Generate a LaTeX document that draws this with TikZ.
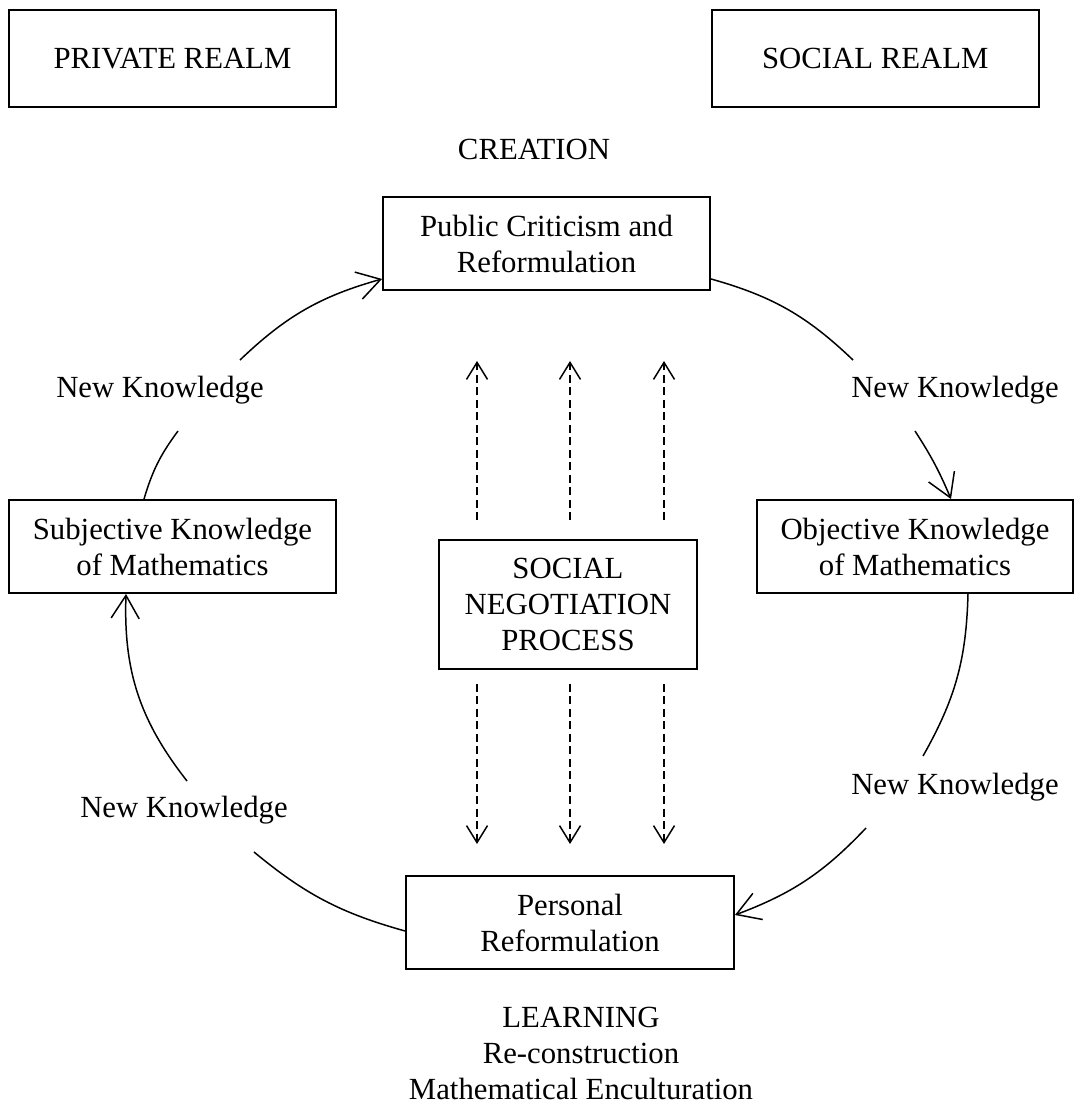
\documentclass[tikz,border=0pt]{standalone}
\usepackage{fontspec}
\setmainfont{Liberation Serif}
\usetikzlibrary{positioning,arrows.meta}
\tikzset{
    realmbox/.style={draw, line width=1.1pt, align=center, minimum width=6.54cm, minimum height=1.94cm},
    stagebox/.style={draw, line width=1.1pt, align=center, minimum height=1.86cm, inner sep=2pt},
    plaintext/.style={align=center},
    cyclearc/.style={draw, line width=0.85pt},
    cyclearrow/.style={cyclearc, -{Straight Barb[length=0.46cm, width=0.56cm]}},
    negarrow/.style={draw, line width=0.85pt, dash pattern=on 4.5pt off 2.6pt, -{Straight Barb[length=0.34cm, width=0.42cm]}}
}
\begin{document}
\begin{tikzpicture}[x=0.02cm, y=-0.02cm, every node/.style={font=\fontsize{17.5}{20.5}\selectfont}]
    \useasboundingbox (0,0) rectangle (1076,1104);
    % realms
    \node[realmbox] (private) at (172.5,58.5) {PRIVATE REALM};
    \node[realmbox, right=7.48cm of private] (social) {SOCIAL REALM};
    % stages of the cycle
    \node[plaintext] (creation) at (534,149) {CREATION};
    \node[stagebox, minimum width=6.54cm] (public) at (546.5,243.5) {Public Criticism and\\Reformulation};
    \node[stagebox, minimum width=6.54cm] (subj) at (172.5,546.5) {Subjective Knowledge\\of Mathematics};
    \node[stagebox, minimum width=6.32cm] (obj) at (915,546.5) {Objective Knowledge\\of Mathematics};
    \node[stagebox, minimum width=6.56cm] (pers) at (570,922.5) {Personal\\Reformulation};
    \node[stagebox, minimum width=5.16cm, minimum height=2.58cm] (neg) at (568,604.5) {SOCIAL\\NEGOTIATION\\PROCESS};
    \node[plaintext, inner sep=1pt] (learning) at (581,1053) {LEARNING\\Re-construction\\Mathematical Enculturation};
    % labels on the arcs
    \node[plaintext] (nkul) at (160,390) {New Knowledge};
    \node[plaintext] (nkur) at (955,390) {New Knowledge};
    \node[plaintext] (nkll) at (184,810) {New Knowledge};
    \node[plaintext] (nklr) at (955,787) {New Knowledge};
    % free ends of the arcs
    \coordinate (a1) at (240,360);
    \coordinate (a2) at (178,431);
    \coordinate (b1) at (853,360);
    \coordinate (b2) at (915,431);
    \coordinate (c1) at (923,756);
    \coordinate (c2) at (866,828);
    \coordinate (d1) at (254,852);
    \coordinate (d2) at (187,781);
    % outer cycle
    \draw[cyclearrow] (a1) to[bend left=14] ([yshift=0.24cm]public.south west);
    \draw[cyclearc] (a2) to[bend right=10] ([xshift=-0.57cm]subj.north);
    \draw[cyclearc] ([yshift=0.24cm]public.south east) to[bend left=14] (b1);
    \draw[cyclearrow] (b2) to[bend left=5] ([xshift=0.72cm]obj.north);
    \draw[cyclearc] ([xshift=1.06cm]obj.south) to[bend left=14] (c1);
    \draw[cyclearrow] (c2) to[bend left=13] ([yshift=0.15cm]pers.east);
    \draw[cyclearc] (d1) to[bend right=12] ([yshift=-0.17cm]pers.west);
    \draw[cyclearrow] (d2) to[bend left=20] ([xshift=-0.93cm]subj.south);
    % negotiation arrows
    \foreach \n/\x in {a/477, b/570, c/664} {
        \coordinate (up\n) at (\x,361);
        \coordinate (dn\n) at (\x,844);
        \draw[negarrow, shorten <=0.38cm] (neg.north -| up\n) -- (up\n);
        \draw[negarrow, shorten <=0.28cm] (neg.south -| dn\n) -- (dn\n);
    }
\end{tikzpicture}
\end{document}
